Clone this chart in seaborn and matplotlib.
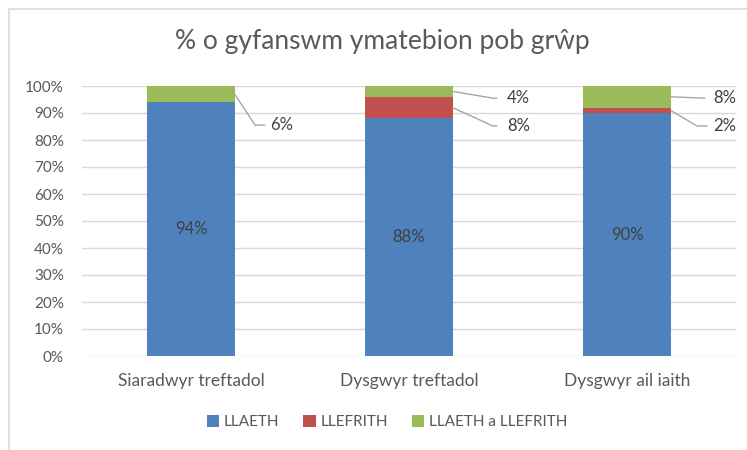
import matplotlib
matplotlib.use("Agg")
import matplotlib.pyplot as plt
from matplotlib.lines import Line2D
from matplotlib.patches import Patch
import seaborn as sns
import pandas as pd

categories = ["Siaradwyr treftadol", "Dysgwyr treftadol", "Dysgwyr ail iaith"]
llaeth = [94, 88, 90]
llefrith = [0, 8, 2]
llaeth_a_llefrith = [6, 4, 8]
series_names = ["LLAETH", "LLEFRITH", "LLAETH a LLEFRITH"]
colors = ["#4F81BD", "#C0504D", "#9BBB59"]
title = "% o gyfanswm ymatebion pob grŵp"

sns.set_theme(style="white")
plt.rcParams["font.family"] = ["Lato", "DejaVu Sans"]
text_color = "#595959"
grid_color = "#D9D9D9"

df = pd.DataFrame({"cat": categories, "a": llaeth, "b": llefrith, "c": llaeth_a_llefrith})
df["cum_a"] = df["a"]
df["cum_b"] = df["a"] + df["b"]
df["cum_c"] = df["a"] + df["b"] + df["c"]

fig = plt.figure(figsize=(7.47, 4.5), dpi=100)
ax = fig.add_axes([82 / 747, 1 - 356 / 450, (736 - 82) / 747, 270 / 450])

width = 0.4
for col, color in zip(["cum_c", "cum_b", "cum_a"], colors[::-1]):
    sns.barplot(data=df, x="cat", y=col, color=color, width=width, ax=ax,
                saturation=1, edgecolor="none", linewidth=0, zorder=3)

ax.set_xlim(-0.5, 2.5)
ax.set_ylim(0, 100)
ax.set_yticks(range(0, 101, 10))
ax.set_yticklabels([f"{v}%" for v in range(0, 101, 10)])
ax.set_xlabel("")
ax.set_ylabel("")
ax.yaxis.grid(True, color=grid_color, linewidth=1, zorder=0)
ax.set_axisbelow(True)
for s in ax.spines.values():
    s.set_visible(False)
ax.tick_params(axis="y", length=0, pad=13, labelsize=11, labelcolor=text_color)
ax.tick_params(axis="x", length=0, pad=12, labelsize=12.5, labelcolor=text_color)

# inside labels for LLAETH
for i, v in enumerate(llaeth):
    ax.text(i, v / 2, f"{v}%", ha="center", va="center", fontsize=12, color="#404040", zorder=5)

# outside labels with leader lines (layout: label y, knee dx, end dx, label dx)
layout = {
    (0, "c"): (85.5, 0.294, 0.339, 0.362),
    (1, "c"): (95.5, 0.385, 0.404, 0.449),
    (1, "b"): (85.2, 0.385, 0.404, 0.449),
    (2, "c"): (95.5, 0.358, 0.358, 0.394),
    (2, "b"): (85.2, 0.321, 0.367, 0.394),
}
for i in range(len(categories)):
    segs = {"b": (llaeth[i], llefrith[i]), "c": (llaeth[i] + llefrith[i], llaeth_a_llefrith[i])}
    for key, (base, val) in segs.items():
        if val <= 0 or (i, key) not in layout:
            continue
        ly, kdx, edx, ldx = layout[(i, key)]
        mid = base + val / 2
        ax.plot([i + width / 2, i + kdx, i + edx], [mid, ly, ly], color="#A6A6A6",
                linewidth=1, zorder=4, clip_on=False)
        ax.text(i + ldx, ly, f"{val}%", ha="left", va="center", fontsize=12,
                color="#404040", clip_on=False)

fig.text(382 / 747, 1 - 42 / 450, title, ha="center", va="center", fontsize=19, color=text_color)

handles = [Patch(facecolor=c, edgecolor="none") for c in colors]
fig.legend(handles, series_names, loc="center", bbox_to_anchor=(387 / 747, 1 - 422 / 450),
           ncol=3, frameon=False, fontsize=11, labelcolor=text_color,
           handlelength=0.8, handleheight=0.8, handletextpad=0.3, columnspacing=1.6)

# chart frame (left and top edges visible)
fig.add_artist(Line2D([8.5 / 747, 8.5 / 747], [0, 1 - 8.5 / 450], color=grid_color, linewidth=1.2,
                      transform=fig.transFigure))
fig.add_artist(Line2D([8.5 / 747, 1], [1 - 8.5 / 450, 1 - 8.5 / 450], color=grid_color, linewidth=1.2,
                      transform=fig.transFigure))

fig.savefig("out.png", dpi=100)
